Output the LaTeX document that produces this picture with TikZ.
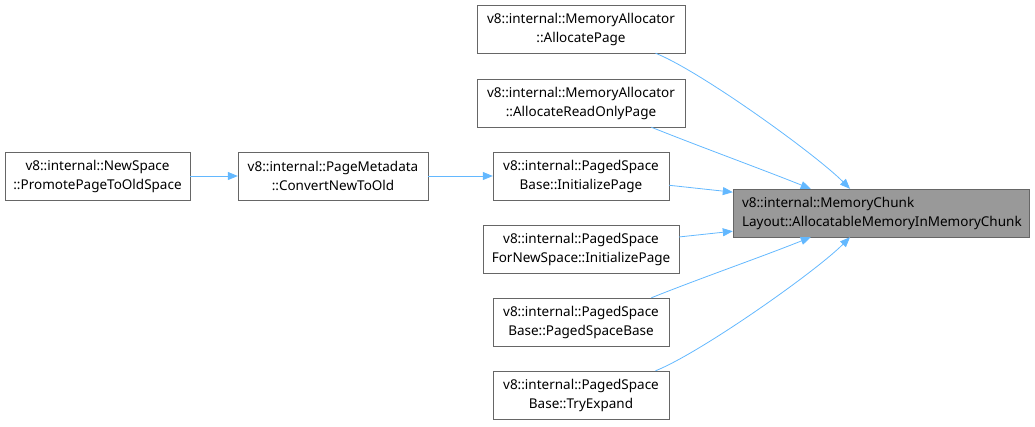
\documentclass[tikz,border=0pt]{standalone}
\usepackage{fontspec}
\setmainfont{Noto Sans}
\usetikzlibrary{arrows.meta}

\definecolor{edgeblue}{HTML}{63B8FF}
\definecolor{boxgray}{HTML}{666666}
\definecolor{curfill}{HTML}{999999}

\tikzset{
  fn/.style={draw=boxgray, fill=white, align=center, minimum height=48pt,
    inner sep=2pt, font=\fontsize{13.5}{19}\selectfont},
  cur/.style={fn, fill=curfill, align=left, inner xsep=9pt, text width=278pt},
  call/.style={draw=edgeblue, line width=0.8pt, -{Triangle[length=10pt,width=8pt]}},
}

\begin{document}
\begin{tikzpicture}[x=1pt, y=-1pt]
  \useasboundingbox (0,0) rectangle (1035,426);

  % callers, leftmost chain
  \node[fn, minimum width=185pt] (newsp) at (97.5,176) {v8::internal::NewSpace\\::PromotePageToOldSpace};
  \node[fn, minimum width=190pt] (pmeta) at (333,176) {v8::internal::PageMetadata\\::ConvertNewToOld};

  % direct callers
  \node[fn, minimum width=208pt] (alloc)  at (581,29)  {v8::internal::MemoryAllocator\\::AllocatePage};
  \node[fn, minimum width=208pt] (allocro) at (581,103) {v8::internal::MemoryAllocator\\::AllocateReadOnlyPage};
  \node[fn, minimum width=176pt] (initpg) at (581,176) {v8::internal::PagedSpace\\Base::InitializePage};
  \node[fn, minimum width=196pt] (initnew) at (581,249) {v8::internal::PagedSpace\\ForNewSpace::InitializePage};
  \node[fn, minimum width=176pt] (psbase) at (581,322) {v8::internal::PagedSpace\\Base::PagedSpaceBase};
  \node[fn, minimum width=176pt] (tryexp) at (581,395) {v8::internal::PagedSpace\\Base::TryExpand};

  % the function itself
  \node[cur, minimum width=296pt] (mc) at (881,213) {v8::internal::MemoryChunk\\Layout::AllocatableMemoryInMemoryChunk};

  \draw[call] (newsp) -- (pmeta);
  \draw[call] (pmeta) -- (initpg);

  \draw[call] (alloc.-18) .. controls +(45,18) and +(-35,-35) .. (mc.142);
  \draw[call] (allocro.-19) .. controls +(50,20) and +(-50,-20) .. (mc.161);
  \draw[call] (initpg.-6.5) -- (mc.172.7);
  \draw[call] (initnew.7.6) -- (mc.-173);
  \draw[call] (psbase.19) .. controls +(50,-20) and +(-50,20) .. (mc.-161);
  \draw[call] (tryexp.18) .. controls +(45,-18) and +(-35,35) .. (mc.-142);
\end{tikzpicture}
\end{document}
